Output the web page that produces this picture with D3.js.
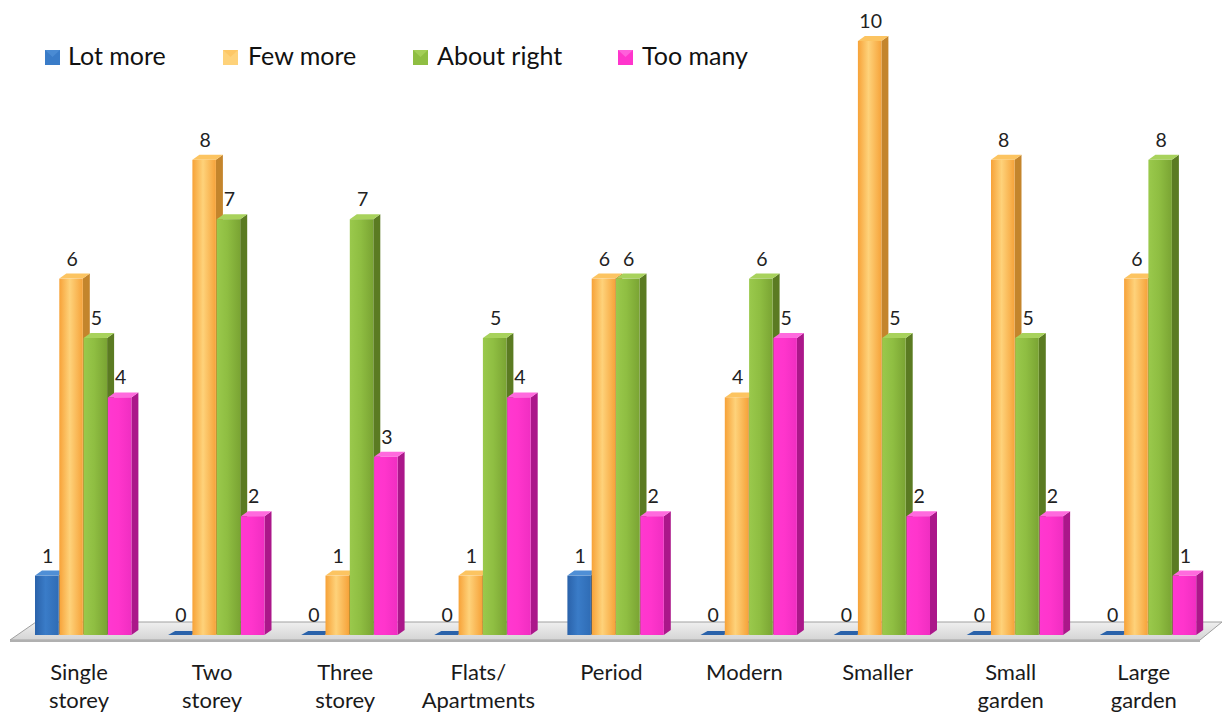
<!DOCTYPE html>
<html><head><meta charset="utf-8">
<script src="https://cdn.jsdelivr.net/npm/d3@7"></script>
<style>body{margin:0;background:#fff;}svg{display:block;}</style>
</head><body>
<svg id="c" width="1225" height="713"></svg>
<script>
const categories = [["Single","storey"],["Two","storey"],["Three","storey"],["Flats/","Apartments"],["Period"],["Modern"],["Smaller"],["Small","garden"],["Large","garden"]];
const seriesNames = ["Lot more","Few more","About right","Too many"];
const lotMore    = [1,0,0,0,1,0,0,0,0];
const fewMore    = [6,8,1,1,6,4,10,8,6];
const aboutRight = [5,7,7,5,6,6,5,5,8];
const tooMany    = [4,2,3,4,2,5,2,2,1];
const seriesValues = [lotMore, fewMore, aboutRight, tooMany];

const palette = [
  {l:"#2a62aa", m:"#3a7cc8", r:"#2f6cb5", side:"#1e4a80", top:"#4f8fd6"},
  {l:"#f7a238", m:"#fed27a", r:"#f6a33a", side:"#c4852c", top:"#fcc461"},
  {l:"#9ac94c", m:"#8fbe42", r:"#7aa433", side:"#5b7b22", top:"#a8d25c"},
  {l:"#ff38d0", m:"#ff35cc", r:"#f02ec2", side:"#ab178a", top:"#ff6ade"}
];

const svg = d3.select("#c");
const font = "Lato, 'Open Sans', sans-serif";
const defs = svg.append("defs");
palette.forEach((p,i)=>{
  const g = defs.append("linearGradient").attr("id","g"+i).attr("x1","0").attr("x2","1").attr("y1","0").attr("y2","0");
  g.append("stop").attr("offset","0").attr("stop-color",p.l);
  g.append("stop").attr("offset","0.45").attr("stop-color",p.m);
  g.append("stop").attr("offset","1").attr("stop-color",p.r);
});
const fg = defs.append("linearGradient").attr("id","floor").attr("x1","0").attr("x2","0").attr("y1","0").attr("y2","1");
fg.append("stop").attr("offset","0").attr("stop-color","#efefef");
fg.append("stop").attr("offset","1").attr("stop-color","#d4d4d4");

const idx = d3.range(categories.length);
const x0 = d3.scaleBand().domain(idx).range([35, 35 + 133.1*categories.length]).paddingInner(0).paddingOuter(0);
const x1 = d3.scaleBand().domain(d3.range(4)).range([0, 4*24.3]).padding(0);
const y = d3.scaleLinear().domain([0,10]).range([635, 41]);
const barW = 23.5, dx = 7, dy = 5;

// floor
svg.append("path")
  .attr("d", `M10,640 L1200,640 L1222,622 L36,622 Z`)
  .attr("fill","url(#floor)").attr("stroke","#a0a0a0").attr("stroke-width",1);
svg.append("path").attr("d","M10,640 L1200,640 L1200,642 L10,642 Z").attr("fill","#b0b0b0");

// bars
const bars = [];
idx.forEach(i=>{
  seriesValues.forEach((vals,s)=>{
    bars.push({i, s, v: vals[i]});
  });
});
const gb = svg.append("g");
bars.forEach(b=>{
  const p = palette[b.s];
  const xL = x0(b.i) + x1(b.s);
  const yT = y(b.v), yB = y(0);
  const g = gb.append("g");
  if (b.v > 0) {
    g.append("path").attr("d",`M${xL+barW},${yT} L${xL+barW+dx},${yT-dy} L${xL+barW+dx},${yB-dy} L${xL+barW},${yB} Z`).attr("fill",p.side);
    g.append("path").attr("d",`M${xL},${yT} L${xL+dx},${yT-dy} L${xL+barW+dx},${yT-dy} L${xL+barW},${yT} Z`).attr("fill",p.top);
    g.append("rect").attr("x",xL).attr("y",yT).attr("width",barW).attr("height",yB-yT).attr("fill",`url(#g${b.s})`);
  } else {
    g.append("path").attr("d",`M${xL},${yB} L${xL+dx},${yB-dy+1} L${xL+barW+dx},${yB-dy+1} L${xL+barW},${yB} Z`).attr("fill",p.l);
  }
  svg.append("text").attr("x", xL + barW/2 + 1).attr("y", yT - 13)
    .attr("text-anchor","middle").attr("font-family",font).attr("font-size",19.5).attr("fill","#222")
    .text(b.v);
});

// category labels
idx.forEach(i=>{
  const t = svg.append("text").attr("x", x0(i)+44).attr("y",680).attr("text-anchor","middle")
    .attr("font-family",font).attr("font-size",22).attr("fill","#1a1a1a");
  categories[i].forEach((line,k)=>{
    t.append("tspan").attr("x", x0(i)+44).attr("dy", k===0?0:28).text(line);
  });
});

// legend
const legSq = [45, 223, 413, 618];
const legTx = [68, 248, 437, 642];
seriesNames.forEach((n,s)=>{
  const p = palette[s];
  svg.append("rect").attr("x",legSq[s]).attr("y",50).attr("width",15).attr("height",15).attr("fill",p.m);
  svg.append("path").attr("d",`M${legSq[s]},50 L${legSq[s]+15},50 L${legSq[s]+7.5},57 Z`).attr("fill",p.top).attr("opacity",0.8);
  svg.append("text").attr("x",legTx[s]).attr("y",65).attr("font-family",font).attr("font-size",25).attr("fill","#111").text(n);
});
</script>
</body></html>
